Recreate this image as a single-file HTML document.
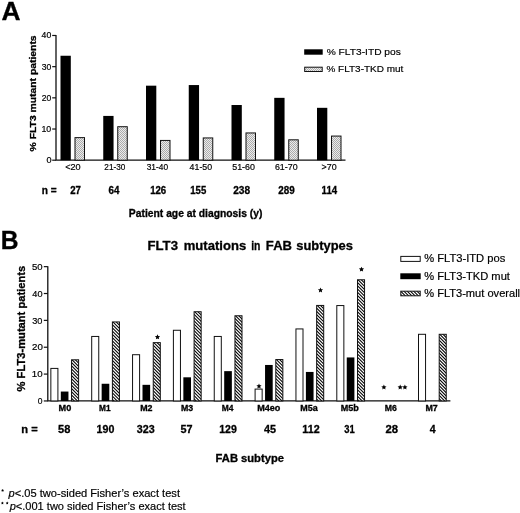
<!DOCTYPE html><html><head><meta charset="utf-8"><style>html,body{margin:0;padding:0;background:#fff}svg{display:block;will-change:transform}text{font-family:"Liberation Sans",sans-serif;fill:#000;stroke:#000;stroke-width:0.18px}.b{font-weight:bold;stroke-width:0.3px}</style></head><body>
<svg width="520" height="513" viewBox="0 0 520 513">
<defs>
<pattern id="dots" width="2" height="2" patternUnits="userSpaceOnUse"><rect width="2" height="2" fill="#ececec"/><rect width="1" height="1" fill="#acacac"/><rect x="1" y="1" width="1" height="1" fill="#acacac"/></pattern>
<pattern id="hatch" width="3.2" height="3.2" patternUnits="userSpaceOnUse"><rect width="3.2" height="3.2" fill="#fff"/><path d="M-1.6,-1.6 L4.8,4.8 M-1.6,1.6 L1.6,4.8 M1.6,-1.6 L4.8,1.6" stroke="#000" stroke-width="1.05" shape-rendering="crispEdges"/></pattern>
</defs>
<rect width="520" height="513" fill="#fff"/>
<text class="b" x="1.60" y="19.5" font-size="25" textLength="19.03" lengthAdjust="spacingAndGlyphs">A</text>
<text class="b" x="0.64" y="249.4" font-size="25" textLength="17.80" lengthAdjust="spacingAndGlyphs">B</text>
<path d="M56.0,34.97999999999999 V160.2 H345.5" fill="none" stroke="#111" stroke-width="1.3"/>
<path d="M52.2,160.2 H56.0" stroke="#111" stroke-width="1.2"/>
<text x="46.62" y="163.2" font-size="8.3" textLength="5.06" lengthAdjust="spacingAndGlyphs">0</text>
<path d="M52.2,129.01999999999998 H56.0" stroke="#111" stroke-width="1.2"/>
<text x="41.42" y="132.01999999999998" font-size="8.3" textLength="9.81" lengthAdjust="spacingAndGlyphs">10</text>
<path d="M52.2,97.83999999999999 H56.0" stroke="#111" stroke-width="1.2"/>
<text x="41.69" y="100.83999999999999" font-size="8.3" textLength="9.55" lengthAdjust="spacingAndGlyphs">20</text>
<path d="M52.2,66.66 H56.0" stroke="#111" stroke-width="1.2"/>
<text x="41.70" y="69.66" font-size="8.3" textLength="9.56" lengthAdjust="spacingAndGlyphs">30</text>
<path d="M52.2,35.47999999999999 H56.0" stroke="#111" stroke-width="1.2"/>
<text x="41.63" y="38.47999999999999" font-size="8.3" textLength="9.65" lengthAdjust="spacingAndGlyphs">40</text>
<text class="b" font-size="9.9" textLength="116" lengthAdjust="spacingAndGlyphs" transform="translate(35.5,151.4) rotate(-90)">% FLT3 mutant patients</text>
<rect x="60.50" y="55.75" width="10.299999999999999" height="104.45" fill="#000"/>
<rect x="75.00" y="137.63" width="9.5" height="22.57" fill="url(#dots)" stroke="#111" stroke-width="1"/>
<text x="65.15" y="169.7" font-size="8.5" textLength="15.49" lengthAdjust="spacingAndGlyphs">&lt;20</text>
<text class="b" x="70.26" y="194.3" font-size="10.4" textLength="10.73" lengthAdjust="spacingAndGlyphs">27</text>
<rect x="103.25" y="115.92" width="10.299999999999999" height="44.28" fill="#000"/>
<rect x="117.75" y="126.71" width="9.5" height="33.49" fill="url(#dots)" stroke="#111" stroke-width="1"/>
<text x="104.35" y="169.7" font-size="8.5" textLength="21.01" lengthAdjust="spacingAndGlyphs">21-30</text>
<text class="b" x="108.59" y="194.3" font-size="10.4" textLength="10.86" lengthAdjust="spacingAndGlyphs">64</text>
<rect x="146.00" y="85.68" width="10.299999999999999" height="74.52" fill="#000"/>
<rect x="160.50" y="140.43" width="9.5" height="19.77" fill="url(#dots)" stroke="#111" stroke-width="1"/>
<text x="146.71" y="169.7" font-size="8.5" textLength="21.33" lengthAdjust="spacingAndGlyphs">31-40</text>
<text class="b" x="150.14" y="194.3" font-size="10.4" textLength="16.07" lengthAdjust="spacingAndGlyphs">126</text>
<rect x="188.75" y="85.06" width="10.299999999999999" height="75.14" fill="#000"/>
<rect x="203.25" y="137.94" width="9.5" height="22.26" fill="url(#dots)" stroke="#111" stroke-width="1"/>
<text x="189.63" y="169.7" font-size="8.5" textLength="22.53" lengthAdjust="spacingAndGlyphs">41-50</text>
<text class="b" x="190.25" y="194.3" font-size="10.4" textLength="15.98" lengthAdjust="spacingAndGlyphs">155</text>
<rect x="231.50" y="105.01" width="10.299999999999999" height="55.19" fill="#000"/>
<rect x="246.00" y="132.95" width="9.5" height="27.25" fill="url(#dots)" stroke="#111" stroke-width="1"/>
<text x="232.21" y="169.7" font-size="8.5" textLength="22.76" lengthAdjust="spacingAndGlyphs">51-60</text>
<text class="b" x="233.22" y="194.3" font-size="10.4" textLength="16.94" lengthAdjust="spacingAndGlyphs">238</text>
<rect x="274.25" y="97.84" width="10.299999999999999" height="62.36" fill="#000"/>
<rect x="288.75" y="139.81" width="9.5" height="20.39" fill="url(#dots)" stroke="#111" stroke-width="1"/>
<text x="274.94" y="169.7" font-size="8.5" textLength="22.67" lengthAdjust="spacingAndGlyphs">61-70</text>
<text class="b" x="278.25" y="194.3" font-size="10.4" textLength="16.44" lengthAdjust="spacingAndGlyphs">289</text>
<rect x="317.00" y="107.82" width="10.299999999999999" height="52.38" fill="#000"/>
<rect x="331.50" y="136.07" width="9.5" height="24.13" fill="url(#dots)" stroke="#111" stroke-width="1"/>
<text x="321.60" y="169.7" font-size="8.5" textLength="15.06" lengthAdjust="spacingAndGlyphs">&gt;70</text>
<text class="b" x="321.60" y="194.3" font-size="10.4" textLength="15.61" lengthAdjust="spacingAndGlyphs">114</text>
<text class="b" x="41.85" y="194.3" font-size="10.4" textLength="14.89" lengthAdjust="spacingAndGlyphs">n =</text>
<text class="b" x="128.89" y="217.4" font-size="10" textLength="133.55" lengthAdjust="spacingAndGlyphs">Patient age at diagnosis (y)</text>
<rect x="304.2" y="49.3" width="18.5" height="5.4" fill="#000"/>
<rect x="304.7" y="67.2" width="17.5" height="4.3" fill="url(#dots)" stroke="#111" stroke-width="1"/>
<text x="326.71" y="54.8" font-size="9.8" textLength="74.09" lengthAdjust="spacingAndGlyphs">% FLT3-ITD pos</text>
<text x="326.49" y="72.4" font-size="9.8" textLength="76.82" lengthAdjust="spacingAndGlyphs">% FLT3-TKD mut</text>
<path d="M47.8,266.15 V400.95 H450.4" fill="none" stroke="#111" stroke-width="1.3"/>
<path d="M43.8,400.95 H47.8" stroke="#111" stroke-width="1.2"/>
<text x="37.82" y="404.15" font-size="8.6" textLength="4.73" lengthAdjust="spacingAndGlyphs">0</text>
<path d="M43.8,374.09 H47.8" stroke="#111" stroke-width="1.2"/>
<text x="31.77" y="377.28999999999996" font-size="8.6" textLength="10.79" lengthAdjust="spacingAndGlyphs">10</text>
<path d="M43.8,347.23 H47.8" stroke="#111" stroke-width="1.2"/>
<text x="32.07" y="350.43" font-size="8.6" textLength="10.85" lengthAdjust="spacingAndGlyphs">20</text>
<path d="M43.8,320.37 H47.8" stroke="#111" stroke-width="1.2"/>
<text x="32.27" y="323.57" font-size="8.6" textLength="10.22" lengthAdjust="spacingAndGlyphs">30</text>
<path d="M43.8,293.51 H47.8" stroke="#111" stroke-width="1.2"/>
<text x="32.38" y="296.71" font-size="8.6" textLength="10.19" lengthAdjust="spacingAndGlyphs">40</text>
<path d="M43.8,266.65 H47.8" stroke="#111" stroke-width="1.2"/>
<text x="32.06" y="269.84999999999997" font-size="8.6" textLength="10.61" lengthAdjust="spacingAndGlyphs">50</text>
<text class="b" font-size="10.2" textLength="125.6" lengthAdjust="spacingAndGlyphs" transform="translate(25.3,391.4) rotate(-90)">% FLT3-mutant patients</text>
<text class="b" x="147.51" y="249.8" font-size="12.6" textLength="30.45" lengthAdjust="spacingAndGlyphs">FLT3</text>
<text class="b" x="183.76" y="249.8" font-size="12.6" textLength="62.41" lengthAdjust="spacingAndGlyphs">mutations</text>
<text class="b" x="251.16" y="249.8" font-size="12.6" textLength="9.28" lengthAdjust="spacingAndGlyphs">in</text>
<text class="b" x="265.89" y="249.8" font-size="12.6" textLength="26.10" lengthAdjust="spacingAndGlyphs">FAB</text>
<text class="b" x="296.19" y="249.8" font-size="12.6" textLength="56.75" lengthAdjust="spacingAndGlyphs">subtypes</text>
<rect x="50.85" y="368.41" width="7.050000000000001" height="32.54" fill="#fff" stroke="#111" stroke-width="1"/>
<rect x="60.80" y="391.55" width="7.65" height="9.40" fill="#000"/>
<clipPath id="c0"><rect x="71.55" y="359.82" width="7.05" height="41.13"/></clipPath>
<rect x="71.55" y="359.82" width="7.05" height="41.13" fill="#fff"/>
<path d="M70.55,348.52L79.60,357.57M70.55,351.77L79.60,360.82M70.55,355.02L79.60,364.07M70.55,358.27L79.60,367.32M70.55,361.52L79.60,370.57M70.55,364.77L79.60,373.82M70.55,368.02L79.60,377.07M70.55,371.27L79.60,380.32M70.55,374.52L79.60,383.57M70.55,377.77L79.60,386.82M70.55,381.02L79.60,390.07M70.55,384.27L79.60,393.32M70.55,387.52L79.60,396.57M70.55,390.77L79.60,399.82M70.55,394.02L79.60,403.07M70.55,397.27L79.60,406.32M70.55,400.52L79.60,409.57" stroke="#000" stroke-width="1.05" fill="none" clip-path="url(#c0)"/>
<rect x="71.55" y="359.82" width="7.05" height="41.13" fill="none" stroke="#111" stroke-width="1"/>
<text class="b" x="58.62" y="410.9" font-size="8.3" textLength="12.68" lengthAdjust="spacingAndGlyphs">M0</text>
<text class="b" x="58.07" y="433" font-size="11" textLength="12.31" lengthAdjust="spacingAndGlyphs">58</text>
<rect x="91.70" y="336.45" width="7.050000000000001" height="64.50" fill="#fff" stroke="#111" stroke-width="1"/>
<rect x="101.65" y="383.76" width="7.65" height="17.19" fill="#000"/>
<clipPath id="c1"><rect x="112.40" y="321.94" width="7.05" height="79.01"/></clipPath>
<rect x="112.40" y="321.94" width="7.05" height="79.01" fill="#fff"/>
<path d="M111.40,310.64L120.45,319.69M111.40,313.89L120.45,322.94M111.40,317.14L120.45,326.19M111.40,320.39L120.45,329.44M111.40,323.64L120.45,332.69M111.40,326.89L120.45,335.94M111.40,330.14L120.45,339.19M111.40,333.39L120.45,342.44M111.40,336.64L120.45,345.69M111.40,339.89L120.45,348.94M111.40,343.14L120.45,352.19M111.40,346.39L120.45,355.44M111.40,349.64L120.45,358.69M111.40,352.89L120.45,361.94M111.40,356.14L120.45,365.19M111.40,359.39L120.45,368.44M111.40,362.64L120.45,371.69M111.40,365.89L120.45,374.94M111.40,369.14L120.45,378.19M111.40,372.39L120.45,381.44M111.40,375.64L120.45,384.69M111.40,378.89L120.45,387.94M111.40,382.14L120.45,391.19M111.40,385.39L120.45,394.44M111.40,388.64L120.45,397.69M111.40,391.89L120.45,400.94M111.40,395.14L120.45,404.19M111.40,398.39L120.45,407.44M111.40,401.64L120.45,410.69" stroke="#000" stroke-width="1.05" fill="none" clip-path="url(#c1)"/>
<rect x="112.40" y="321.94" width="7.05" height="79.01" fill="none" stroke="#111" stroke-width="1"/>
<text class="b" x="99.06" y="410.9" font-size="8.3" textLength="11.49" lengthAdjust="spacingAndGlyphs">M1</text>
<text class="b" x="96.60" y="433" font-size="11" textLength="17.78" lengthAdjust="spacingAndGlyphs">190</text>
<rect x="132.55" y="354.71" width="7.050000000000001" height="46.24" fill="#fff" stroke="#111" stroke-width="1"/>
<rect x="142.50" y="384.83" width="7.65" height="16.12" fill="#000"/>
<clipPath id="c2"><rect x="153.25" y="342.63" width="7.05" height="58.32"/></clipPath>
<rect x="153.25" y="342.63" width="7.05" height="58.32" fill="#fff"/>
<path d="M152.25,331.33L161.30,340.38M152.25,334.58L161.30,343.63M152.25,337.83L161.30,346.88M152.25,341.08L161.30,350.13M152.25,344.33L161.30,353.38M152.25,347.58L161.30,356.63M152.25,350.83L161.30,359.88M152.25,354.08L161.30,363.13M152.25,357.33L161.30,366.38M152.25,360.58L161.30,369.63M152.25,363.83L161.30,372.88M152.25,367.08L161.30,376.13M152.25,370.33L161.30,379.38M152.25,373.58L161.30,382.63M152.25,376.83L161.30,385.88M152.25,380.08L161.30,389.13M152.25,383.33L161.30,392.38M152.25,386.58L161.30,395.63M152.25,389.83L161.30,398.88M152.25,393.08L161.30,402.13M152.25,396.33L161.30,405.38M152.25,399.58L161.30,408.63M152.25,402.83L161.30,411.88" stroke="#000" stroke-width="1.05" fill="none" clip-path="url(#c2)"/>
<rect x="153.25" y="342.63" width="7.05" height="58.32" fill="none" stroke="#111" stroke-width="1"/>
<text class="b" x="140.19" y="410.9" font-size="8.3" textLength="12.26" lengthAdjust="spacingAndGlyphs">M2</text>
<text class="b" x="136.73" y="433" font-size="11" textLength="17.90" lengthAdjust="spacingAndGlyphs">323</text>
<rect x="173.40" y="330.27" width="7.050000000000001" height="70.68" fill="#fff" stroke="#111" stroke-width="1"/>
<rect x="183.35" y="377.31" width="7.65" height="23.64" fill="#000"/>
<clipPath id="c3"><rect x="194.10" y="311.74" width="7.05" height="89.21"/></clipPath>
<rect x="194.10" y="311.74" width="7.05" height="89.21" fill="#fff"/>
<path d="M193.10,300.44L202.15,309.49M193.10,303.69L202.15,312.74M193.10,306.94L202.15,315.99M193.10,310.19L202.15,319.24M193.10,313.44L202.15,322.49M193.10,316.69L202.15,325.74M193.10,319.94L202.15,328.99M193.10,323.19L202.15,332.24M193.10,326.44L202.15,335.49M193.10,329.69L202.15,338.74M193.10,332.94L202.15,341.99M193.10,336.19L202.15,345.24M193.10,339.44L202.15,348.49M193.10,342.69L202.15,351.74M193.10,345.94L202.15,354.99M193.10,349.19L202.15,358.24M193.10,352.44L202.15,361.49M193.10,355.69L202.15,364.74M193.10,358.94L202.15,367.99M193.10,362.19L202.15,371.24M193.10,365.44L202.15,374.49M193.10,368.69L202.15,377.74M193.10,371.94L202.15,380.99M193.10,375.19L202.15,384.24M193.10,378.44L202.15,387.49M193.10,381.69L202.15,390.74M193.10,384.94L202.15,393.99M193.10,388.19L202.15,397.24M193.10,391.44L202.15,400.49M193.10,394.69L202.15,403.74M193.10,397.94L202.15,406.99M193.10,401.19L202.15,410.24" stroke="#000" stroke-width="1.05" fill="none" clip-path="url(#c3)"/>
<rect x="194.10" y="311.74" width="7.05" height="89.21" fill="none" stroke="#111" stroke-width="1"/>
<text class="b" x="180.95" y="410.9" font-size="8.3" textLength="12.21" lengthAdjust="spacingAndGlyphs">M3</text>
<text class="b" x="180.61" y="433" font-size="11" textLength="12.02" lengthAdjust="spacingAndGlyphs">57</text>
<rect x="214.25" y="336.45" width="7.050000000000001" height="64.50" fill="#fff" stroke="#111" stroke-width="1"/>
<rect x="224.20" y="371.14" width="7.65" height="29.81" fill="#000"/>
<clipPath id="c4"><rect x="234.95" y="315.77" width="7.05" height="85.18"/></clipPath>
<rect x="234.95" y="315.77" width="7.05" height="85.18" fill="#fff"/>
<path d="M233.95,304.47L243.00,313.52M233.95,307.72L243.00,316.77M233.95,310.97L243.00,320.02M233.95,314.22L243.00,323.27M233.95,317.47L243.00,326.52M233.95,320.72L243.00,329.77M233.95,323.97L243.00,333.02M233.95,327.22L243.00,336.27M233.95,330.47L243.00,339.52M233.95,333.72L243.00,342.77M233.95,336.97L243.00,346.02M233.95,340.22L243.00,349.27M233.95,343.47L243.00,352.52M233.95,346.72L243.00,355.77M233.95,349.97L243.00,359.02M233.95,353.22L243.00,362.27M233.95,356.47L243.00,365.52M233.95,359.72L243.00,368.77M233.95,362.97L243.00,372.02M233.95,366.22L243.00,375.27M233.95,369.47L243.00,378.52M233.95,372.72L243.00,381.77M233.95,375.97L243.00,385.02M233.95,379.22L243.00,388.27M233.95,382.47L243.00,391.52M233.95,385.72L243.00,394.77M233.95,388.97L243.00,398.02M233.95,392.22L243.00,401.27M233.95,395.47L243.00,404.52M233.95,398.72L243.00,407.77M233.95,401.97L243.00,411.02" stroke="#000" stroke-width="1.05" fill="none" clip-path="url(#c4)"/>
<rect x="234.95" y="315.77" width="7.05" height="85.18" fill="none" stroke="#111" stroke-width="1"/>
<text class="b" x="221.75" y="410.9" font-size="8.3" textLength="11.67" lengthAdjust="spacingAndGlyphs">M4</text>
<text class="b" x="219.22" y="433" font-size="11" textLength="17.65" lengthAdjust="spacingAndGlyphs">129</text>
<rect x="255.10" y="389.09" width="7.050000000000001" height="11.86" fill="#fff" stroke="#111" stroke-width="1"/>
<rect x="265.05" y="364.96" width="7.65" height="35.99" fill="#000"/>
<clipPath id="c5"><rect x="275.80" y="359.55" width="7.05" height="41.40"/></clipPath>
<rect x="275.80" y="359.55" width="7.05" height="41.40" fill="#fff"/>
<path d="M274.80,348.25L283.85,357.30M274.80,351.50L283.85,360.55M274.80,354.75L283.85,363.80M274.80,358.00L283.85,367.05M274.80,361.25L283.85,370.30M274.80,364.50L283.85,373.55M274.80,367.75L283.85,376.80M274.80,371.00L283.85,380.05M274.80,374.25L283.85,383.30M274.80,377.50L283.85,386.55M274.80,380.75L283.85,389.80M274.80,384.00L283.85,393.05M274.80,387.25L283.85,396.30M274.80,390.50L283.85,399.55M274.80,393.75L283.85,402.80M274.80,397.00L283.85,406.05M274.80,400.25L283.85,409.30" stroke="#000" stroke-width="1.05" fill="none" clip-path="url(#c5)"/>
<rect x="275.80" y="359.55" width="7.05" height="41.40" fill="none" stroke="#111" stroke-width="1"/>
<text class="b" x="257.22" y="410.9" font-size="8.3" textLength="23.13" lengthAdjust="spacingAndGlyphs">M4eo</text>
<text class="b" x="263.90" y="433" font-size="11" textLength="12.05" lengthAdjust="spacingAndGlyphs">45</text>
<rect x="295.95" y="328.93" width="7.050000000000001" height="72.02" fill="#fff" stroke="#111" stroke-width="1"/>
<rect x="305.90" y="371.94" width="7.65" height="29.01" fill="#000"/>
<clipPath id="c6"><rect x="316.65" y="305.43" width="7.05" height="95.52"/></clipPath>
<rect x="316.65" y="305.43" width="7.05" height="95.52" fill="#fff"/>
<path d="M315.65,294.13L324.70,303.18M315.65,297.38L324.70,306.43M315.65,300.63L324.70,309.68M315.65,303.88L324.70,312.93M315.65,307.13L324.70,316.18M315.65,310.38L324.70,319.43M315.65,313.63L324.70,322.68M315.65,316.88L324.70,325.93M315.65,320.13L324.70,329.18M315.65,323.38L324.70,332.43M315.65,326.63L324.70,335.68M315.65,329.88L324.70,338.93M315.65,333.13L324.70,342.18M315.65,336.38L324.70,345.43M315.65,339.63L324.70,348.68M315.65,342.88L324.70,351.93M315.65,346.13L324.70,355.18M315.65,349.38L324.70,358.43M315.65,352.63L324.70,361.68M315.65,355.88L324.70,364.93M315.65,359.13L324.70,368.18M315.65,362.38L324.70,371.43M315.65,365.63L324.70,374.68M315.65,368.88L324.70,377.93M315.65,372.13L324.70,381.18M315.65,375.38L324.70,384.43M315.65,378.63L324.70,387.68M315.65,381.88L324.70,390.93M315.65,385.13L324.70,394.18M315.65,388.38L324.70,397.43M315.65,391.63L324.70,400.68M315.65,394.88L324.70,403.93M315.65,398.13L324.70,407.18M315.65,401.38L324.70,410.43" stroke="#000" stroke-width="1.05" fill="none" clip-path="url(#c6)"/>
<rect x="316.65" y="305.43" width="7.05" height="95.52" fill="none" stroke="#111" stroke-width="1"/>
<text class="b" x="300.23" y="410.9" font-size="8.3" textLength="17.40" lengthAdjust="spacingAndGlyphs">M5a</text>
<text class="b" x="302.28" y="433" font-size="11" textLength="17.34" lengthAdjust="spacingAndGlyphs">112</text>
<rect x="336.80" y="305.56" width="7.050000000000001" height="95.39" fill="#fff" stroke="#111" stroke-width="1"/>
<rect x="346.75" y="357.44" width="7.65" height="43.51" fill="#000"/>
<clipPath id="c7"><rect x="357.50" y="279.77" width="7.05" height="121.18"/></clipPath>
<rect x="357.50" y="279.77" width="7.05" height="121.18" fill="#fff"/>
<path d="M356.50,268.47L365.55,277.52M356.50,271.72L365.55,280.77M356.50,274.97L365.55,284.02M356.50,278.22L365.55,287.27M356.50,281.47L365.55,290.52M356.50,284.72L365.55,293.77M356.50,287.97L365.55,297.02M356.50,291.22L365.55,300.27M356.50,294.47L365.55,303.52M356.50,297.72L365.55,306.77M356.50,300.97L365.55,310.02M356.50,304.22L365.55,313.27M356.50,307.47L365.55,316.52M356.50,310.72L365.55,319.77M356.50,313.97L365.55,323.02M356.50,317.22L365.55,326.27M356.50,320.47L365.55,329.52M356.50,323.72L365.55,332.77M356.50,326.97L365.55,336.02M356.50,330.22L365.55,339.27M356.50,333.47L365.55,342.52M356.50,336.72L365.55,345.77M356.50,339.97L365.55,349.02M356.50,343.22L365.55,352.27M356.50,346.47L365.55,355.52M356.50,349.72L365.55,358.77M356.50,352.97L365.55,362.02M356.50,356.22L365.55,365.27M356.50,359.47L365.55,368.52M356.50,362.72L365.55,371.77M356.50,365.97L365.55,375.02M356.50,369.22L365.55,378.27M356.50,372.47L365.55,381.52M356.50,375.72L365.55,384.77M356.50,378.97L365.55,388.02M356.50,382.22L365.55,391.27M356.50,385.47L365.55,394.52M356.50,388.72L365.55,397.77M356.50,391.97L365.55,401.02M356.50,395.22L365.55,404.27M356.50,398.47L365.55,407.52M356.50,401.72L365.55,410.77" stroke="#000" stroke-width="1.05" fill="none" clip-path="url(#c7)"/>
<rect x="357.50" y="279.77" width="7.05" height="121.18" fill="none" stroke="#111" stroke-width="1"/>
<text class="b" x="340.84" y="410.9" font-size="8.3" textLength="18.07" lengthAdjust="spacingAndGlyphs">M5b</text>
<text class="b" x="344.21" y="433" font-size="11" textLength="10.48" lengthAdjust="spacingAndGlyphs">31</text>
<text class="b" x="384.89" y="410.9" font-size="8.3" textLength="12.06" lengthAdjust="spacingAndGlyphs">M6</text>
<text class="b" x="385.55" y="433" font-size="11" textLength="12.65" lengthAdjust="spacingAndGlyphs">28</text>
<rect x="418.50" y="334.30" width="7.050000000000001" height="66.65" fill="#fff" stroke="#111" stroke-width="1"/>
<clipPath id="c9"><rect x="439.20" y="334.30" width="7.05" height="66.65"/></clipPath>
<rect x="439.20" y="334.30" width="7.05" height="66.65" fill="#fff"/>
<path d="M438.20,323.00L447.25,332.05M438.20,326.25L447.25,335.30M438.20,329.50L447.25,338.55M438.20,332.75L447.25,341.80M438.20,336.00L447.25,345.05M438.20,339.25L447.25,348.30M438.20,342.50L447.25,351.55M438.20,345.75L447.25,354.80M438.20,349.00L447.25,358.05M438.20,352.25L447.25,361.30M438.20,355.50L447.25,364.55M438.20,358.75L447.25,367.80M438.20,362.00L447.25,371.05M438.20,365.25L447.25,374.30M438.20,368.50L447.25,377.55M438.20,371.75L447.25,380.80M438.20,375.00L447.25,384.05M438.20,378.25L447.25,387.30M438.20,381.50L447.25,390.55M438.20,384.75L447.25,393.80M438.20,388.00L447.25,397.05M438.20,391.25L447.25,400.30M438.20,394.50L447.25,403.55M438.20,397.75L447.25,406.80M438.20,401.00L447.25,410.05" stroke="#000" stroke-width="1.05" fill="none" clip-path="url(#c9)"/>
<rect x="439.20" y="334.30" width="7.05" height="66.65" fill="none" stroke="#111" stroke-width="1"/>
<text class="b" x="425.40" y="410.9" font-size="8.3" textLength="12.31" lengthAdjust="spacingAndGlyphs">M7</text>
<text class="b" x="429.72" y="433" font-size="11" textLength="5.88" lengthAdjust="spacingAndGlyphs">4</text>
<text class="b" x="21.24" y="433" font-size="11" textLength="16.40" lengthAdjust="spacingAndGlyphs">n =</text>
<text class="b" x="215.60" y="462" font-size="10.2" textLength="68.36" lengthAdjust="spacingAndGlyphs">FAB subtype</text>
<polygon points="157.50,334.35 158.26,336.05 160.12,336.25 158.74,337.50 159.12,339.32 157.50,338.40 155.88,339.32 156.26,337.50 154.88,336.25 156.74,336.05" fill="#000"/>
<polygon points="259.00,383.45 259.76,385.15 261.62,385.35 260.24,386.60 260.62,388.42 259.00,387.50 257.38,388.42 257.76,386.60 256.38,385.35 258.24,385.15" fill="#000"/>
<polygon points="320.50,287.45 321.26,289.15 323.12,289.35 321.74,290.60 322.12,292.42 320.50,291.50 318.88,292.42 319.26,290.60 317.88,289.35 319.74,289.15" fill="#000"/>
<polygon points="361.50,266.65 362.26,268.35 364.12,268.55 362.74,269.80 363.12,271.62 361.50,270.70 359.88,271.62 360.26,269.80 358.88,268.55 360.74,268.35" fill="#000"/>
<polygon points="383.90,384.55 384.66,386.25 386.52,386.45 385.14,387.70 385.52,389.52 383.90,388.60 382.28,389.52 382.66,387.70 381.28,386.45 383.14,386.25" fill="#000"/>
<polygon points="400.20,384.55 400.96,386.25 402.82,386.45 401.44,387.70 401.82,389.52 400.20,388.60 398.58,389.52 398.96,387.70 397.58,386.45 399.44,386.25" fill="#000"/>
<polygon points="404.90,384.55 405.66,386.25 407.52,386.45 406.14,387.70 406.52,389.52 404.90,388.60 403.28,389.52 403.66,387.70 402.28,386.45 404.14,386.25" fill="#000"/>
<rect x="400.8" y="256.4" width="19.4" height="5" fill="#fff" stroke="#111" stroke-width="1"/>
<rect x="400.3" y="273.3" width="20.4" height="5.9" fill="#000"/>
<clipPath id="cleg"><rect x="400.80" y="291.20" width="19.40" height="4.60"/></clipPath>
<rect x="400.80" y="291.20" width="19.40" height="4.60" fill="#fff"/>
<path d="M399.80,267.55L421.20,288.95M399.80,270.80L421.20,292.20M399.80,274.05L421.20,295.45M399.80,277.30L421.20,298.70M399.80,280.55L421.20,301.95M399.80,283.80L421.20,305.20M399.80,287.05L421.20,308.45M399.80,290.30L421.20,311.70M399.80,293.55L421.20,314.95M399.80,296.80L421.20,318.20" stroke="#000" stroke-width="1.05" fill="none" clip-path="url(#cleg)"/>
<rect x="400.80" y="291.20" width="19.40" height="4.60" fill="none" stroke="#111" stroke-width="1"/>
<text x="424.19" y="262.4" font-size="10.1" textLength="81.07" lengthAdjust="spacingAndGlyphs">% FLT3-ITD pos</text>
<text x="424.19" y="280" font-size="10.1" textLength="85.74" lengthAdjust="spacingAndGlyphs">% FLT3-TKD mut</text>
<text x="424.23" y="296.8" font-size="10.1" textLength="95.86" lengthAdjust="spacingAndGlyphs">% FLT3-mut overall</text>
<text x="8.60" y="496.7" font-size="11.1" textLength="171.38" lengthAdjust="spacingAndGlyphs"><tspan font-style="italic">p</tspan>&lt;.05 two-sided Fisher’s exact test</text>
<text x="9.70" y="509.8" font-size="11.1" textLength="176.01" lengthAdjust="spacingAndGlyphs"><tspan font-style="italic">p</tspan>&lt;.001 two sided Fisher’s exact test</text>
<polygon points="2.60,489.00 3.07,489.85 4.03,490.04 3.36,490.75 3.48,491.71 2.60,491.30 1.72,491.71 1.84,490.75 1.17,490.04 2.13,489.85" fill="#000"/>
<polygon points="2.40,501.60 2.87,502.45 3.83,502.64 3.16,503.35 3.28,504.31 2.40,503.90 1.52,504.31 1.64,503.35 0.97,502.64 1.93,502.45" fill="#000"/>
<polygon points="7.20,501.60 7.67,502.45 8.63,502.64 7.96,503.35 8.08,504.31 7.20,503.90 6.32,504.31 6.44,503.35 5.77,502.64 6.73,502.45" fill="#000"/>
</svg></body></html>
